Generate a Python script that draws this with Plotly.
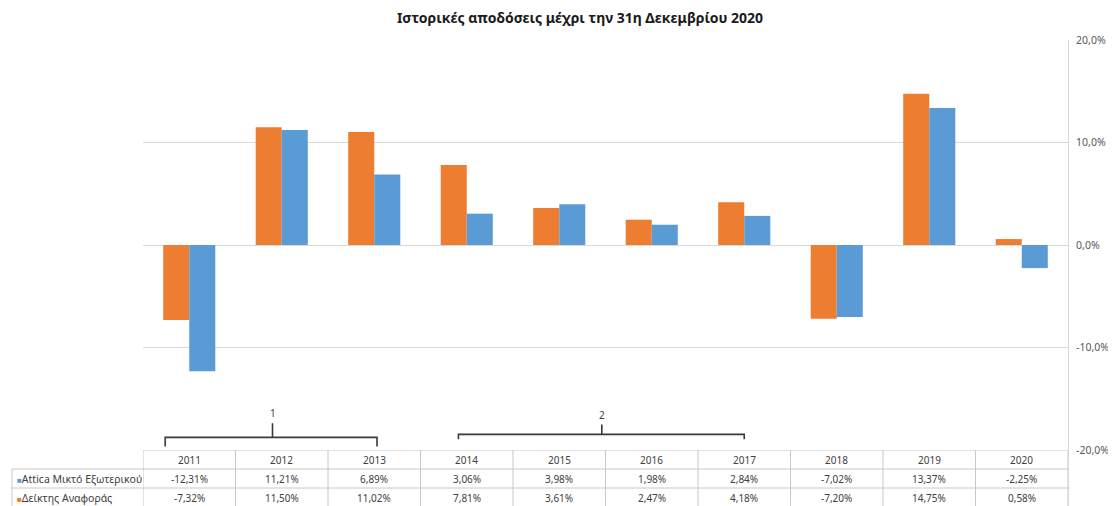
import plotly.graph_objects as go

# ---------------- data ----------------
years = ["2011", "2012", "2013", "2014", "2015", "2016", "2017", "2018", "2019", "2020"]
attica = [-12.31, 11.21, 6.89, 3.06, 3.98, 1.98, 2.84, -7.02, 13.37, -2.25]
benchmark = [-7.32, 11.50, 11.02, 7.81, 3.61, 2.47, 4.18, -7.20, 14.75, 0.58]
series_names = ["Attica Μικτό Εξωτερικού", "Δείκτης Αναφοράς"]
y_ticks = [20, 10, 0, -10, -20]
y_tick_text = ["20,0%", "10,0%", "0,0%", "-10,0%", "-20,0%"]
title_text = "Ιστορικές αποδόσεις μέχρι την 31η Δεκεμβρίου 2020"

# ---------------- style ----------------
BLUE = "#5B9BD5"
ORANGE = "#ED7D31"
GRID = "#D9D9D9"
TABLE_LINE = "#C8C8C8"
TXT = "#404040"
FONT = "Noto Sans"

PAGE_OFF = 8                 # default page body margin
SY = 514 / 506               # vertical page-to-picture factor
W, H = 1116 - PAGE_OFF, 506
ML, MR, MB = 143 - PAGE_OFF, 48, 0
MT = 39 * SY - PAGE_OFF
TABLE_FRAC = 0.122           # part of plot height used by the data table
ROWS = 3

def fmt(v):
    return ("%.2f" % v).replace(".", ",") + "%"

idx = list(range(len(years)))

fig = go.Figure()
fig.add_trace(go.Bar(x=idx, y=benchmark, name=series_names[1], marker_color=ORANGE,
                     marker_line_width=0, showlegend=False))
fig.add_trace(go.Bar(x=idx, y=attica, name=series_names[0], marker_color=BLUE,
                     marker_line_width=0, showlegend=False))
# invisible trace to create the table subplot (x / y2)
fig.add_trace(go.Scatter(x=[0], y=[0], xaxis="x", yaxis="y2", mode="markers",
                         marker=dict(opacity=0), hoverinfo="skip", showlegend=False))

shapes = []
annotations = []

# ---- table lines (x / y2 data coords) ----
n = len(years)
for k in range(n + 1):
    shapes.append(dict(type="line", xref="x", yref="y2", x0=k - 0.5, x1=k - 0.5, y0=0, y1=ROWS,
                       line=dict(color=TABLE_LINE, width=1)))
for r in range(ROWS + 1):
    shapes.append(dict(type="line", xref="x", yref="y2", x0=-0.5, x1=n - 0.5, y0=r, y1=r,
                       line=dict(color=TABLE_LINE, width=1)))

# ---- table texts ----
row_h = TABLE_FRAC / ROWS
rows = [years, [fmt(v) for v in attica], [fmt(v) for v in benchmark]]
for r, row in enumerate(rows):
    yc = TABLE_FRAC - (r + 0.5) * row_h
    for k, t in enumerate(row):
        annotations.append(dict(xref="x", yref="paper", x=k, y=yc, text=t, showarrow=False,
                                font=dict(family=FONT, size=10, color=TXT),
                                xanchor="center", yanchor="middle"))

# ---- row label column (paper coords) ----
plot_w = W - ML - MR
lab_left = (12 - 143) / plot_w
for r in range(ROWS - 1):
    yy = TABLE_FRAC - (r + 1) * row_h
    shapes.append(dict(type="line", xref="paper", yref="paper", x0=lab_left, x1=0,
                       y0=yy, y1=yy, line=dict(color=TABLE_LINE, width=1)))
shapes.append(dict(type="line", xref="paper", yref="paper", x0=lab_left, x1=lab_left,
                   y0=0, y1=TABLE_FRAC - row_h, line=dict(color=TABLE_LINE, width=1)))
for r, (nm, col) in enumerate([(series_names[0], BLUE), (series_names[1], ORANGE)]):
    yc = TABLE_FRAC - (r + 1.5) * row_h
    annotations.append(dict(xref="paper", yref="paper", x=lab_left + 3 / plot_w, y=yc,
                            text="<span style='color:%s;font-size:8px'>■</span>%s" % (col, nm),
                            showarrow=False, xanchor="left", yanchor="middle",
                            font=dict(family=FONT, size=10.5, color=TXT)))

# ---- brackets (main x / y data coords) ----
brackets = [
    dict(label="1", x0=-0.26, x1=2.03, xm=0.9, ybar=-18.77, yend=-19.65, ytop=-17.4, ylab=-16.4),
    dict(label="2", x0=2.91, x1=6.0, xm=4.46, ybar=-18.47, yend=-18.96, ytop=-17.5, ylab=-16.6),
]
for b in brackets:
    path = "M %g,%g L %g,%g L %g,%g L %g,%g M %g,%g L %g,%g" % (
        b["x0"], b["yend"], b["x0"], b["ybar"], b["x1"], b["ybar"], b["x1"], b["yend"],
        b["xm"], b["ybar"], b["xm"], b["ytop"])
    shapes.append(dict(type="path", xref="x", yref="y", path=path,
                       line=dict(color="#3a3a3a", width=1.6)))
    annotations.append(dict(xref="x", yref="y", x=b["xm"], y=b["ylab"], text=b["label"],
                            showarrow=False, font=dict(family=FONT, size=10, color=TXT)))

fig.update_layout(
    width=W, height=H,
    margin=dict(l=ML, r=MR, t=MT, b=MB),
    paper_bgcolor="white", plot_bgcolor="white",
    barmode="group", bargap=0.437, bargroupgap=0,
    title=dict(text="<b>%s</b>" % title_text, xref="paper", x=(580 - 143) / plot_w,
               xanchor="center", yref="container", y=1 - (18 * SY - PAGE_OFF) / H,
               yanchor="middle", font=dict(family=FONT, size=14, color="#1a1a1a")),
    xaxis=dict(range=[-0.5, n - 0.5], showgrid=False, zeroline=False, showticklabels=False,
               ticks="", showline=False, anchor="y", fixedrange=True),
    yaxis=dict(domain=[TABLE_FRAC, 1], range=[-20, 20], side="right", anchor="x",
               tickvals=y_ticks, ticktext=y_tick_text, showgrid=True, gridcolor=GRID,
               gridwidth=1, zeroline=True, zerolinecolor=GRID, zerolinewidth=1,
               showline=True, linecolor=GRID, linewidth=1, ticks="outside", ticklen=5,
               tickcolor="rgba(0,0,0,0)",
               tickfont=dict(family=FONT, size=10.5, color="#595959")),
    yaxis2=dict(domain=[0, TABLE_FRAC], range=[0, ROWS], side="right", anchor="x",
                showgrid=False, zeroline=False, showticklabels=False, ticks="",
                showline=True, linecolor=GRID, linewidth=1),
    shapes=shapes,
    annotations=annotations,
)

fig.write_html("out.html", config={"displayModeBar": False})
